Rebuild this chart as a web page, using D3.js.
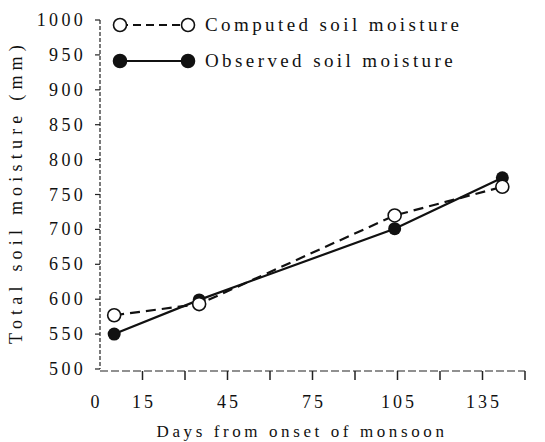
<!DOCTYPE html>
<html><head><meta charset="utf-8">
<script src="https://cdn.jsdelivr.net/npm/d3@7"></script>
<style>body{margin:0;background:#fff}svg{display:block}text{font-family:"Liberation Serif","DejaVu Serif",serif;fill:#111}</style>
</head><body><svg id="c" width="545" height="442"></svg>
<script>
const days = [5, 35, 104, 142];
const computed = [577, 593, 720, 761];
const observed = [550, 599, 701, 774];
const yTicks = [500,550,600,650,700,750,800,850,900,950,1000];
const xTickMarks = [15,30,45,60,75,90,105,120,135,150];
const xLabels = [0,15,45,75,105,135];
const seriesNames = ["Computed soil moisture","Observed soil moisture"];

const svg = d3.select("#c");
const x = d3.scaleLinear().domain([0,150]).range([100,525]);
const y = d3.scaleLinear().domain([500,1000]).range([369,20]);

// y axis
svg.append("line").attr("x1",100).attr("x2",100).attr("y1",y(1000)).attr("y2",y(500))
  .attr("stroke","#222").attr("stroke-width",1.2).attr("stroke-dasharray","4,2");
yTicks.forEach(v=>{
  svg.append("line").attr("x1",95).attr("x2",100).attr("y1",y(v)).attr("y2",y(v)).attr("stroke","#222").attr("stroke-width",1.2);
  svg.append("text").attr("x",86).attr("y",y(v)+6).attr("text-anchor","end")
    .attr("font-size",18).attr("letter-spacing",3.3).text(v);
});
// x axis
svg.append("line").attr("x1",100).attr("x2",525).attr("y1",371).attr("y2",371)
  .attr("stroke","#222").attr("stroke-width",1.2).attr("stroke-dasharray","8,3");
xTickMarks.forEach(v=>{
  svg.append("line").attr("x1",x(v)).attr("x2",x(v)).attr("y1",371).attr("y2",380).attr("stroke","#222").attr("stroke-width",1.5);
});
xLabels.forEach(v=>{
  svg.append("text").attr("x",x(v)-(v===0?5:0)+1.5).attr("y",408).attr("text-anchor","middle")
    .attr("font-size",18).attr("letter-spacing",3).text(v);
});
svg.append("text").attr("x",302).attr("y",437).attr("text-anchor","middle")
  .attr("font-size",17).attr("letter-spacing",3.6).text("Days from onset of monsoon");
svg.append("text").attr("transform","translate(22,192) rotate(-90)").attr("text-anchor","middle")
  .attr("font-size",18).attr("letter-spacing",5.2).text("Total soil moisture (mm)");

const line = d3.line().x(d=>x(d[0])).y(d=>y(d[1]));
const cData = days.map((d,i)=>[d,computed[i]]);
const oData = days.map((d,i)=>[d,observed[i]]);
svg.append("path").attr("d",line(cData)).attr("fill","none").attr("stroke","#111").attr("stroke-width",2.2).attr("stroke-dasharray","10,6");
svg.append("path").attr("d",line(oData)).attr("fill","none").attr("stroke","#111").attr("stroke-width",2.2);
svg.selectAll(".o").data(oData).enter().append("circle").attr("cx",d=>x(d[0])).attr("cy",d=>y(d[1])).attr("r",6.5).attr("fill","#111");
svg.selectAll(".c").data(cData).enter().append("circle").attr("cx",d=>x(d[0])).attr("cy",d=>y(d[1])).attr("r",6.5).attr("fill","#fff").attr("stroke","#111").attr("stroke-width",1.6);

// legend
const leg = [{y:25,dash:"8,5",fill:"#fff"},{y:61,dash:null,fill:"#111"}];
leg.forEach((l,i)=>{
  svg.append("line").attr("x1",120).attr("x2",188).attr("y1",l.y).attr("y2",l.y).attr("stroke","#111").attr("stroke-width",2)
    .attr("stroke-dasharray",l.dash);
  [120,188].forEach(cx=>svg.append("circle").attr("cx",cx).attr("cy",l.y).attr("r",6.5).attr("fill",l.fill).attr("stroke","#111").attr("stroke-width",1.6));
  svg.append("text").attr("x",205).attr("y",l.y+6).attr("font-size",19).attr("letter-spacing",3.4).text(seriesNames[i]);
});
</script></body></html>
